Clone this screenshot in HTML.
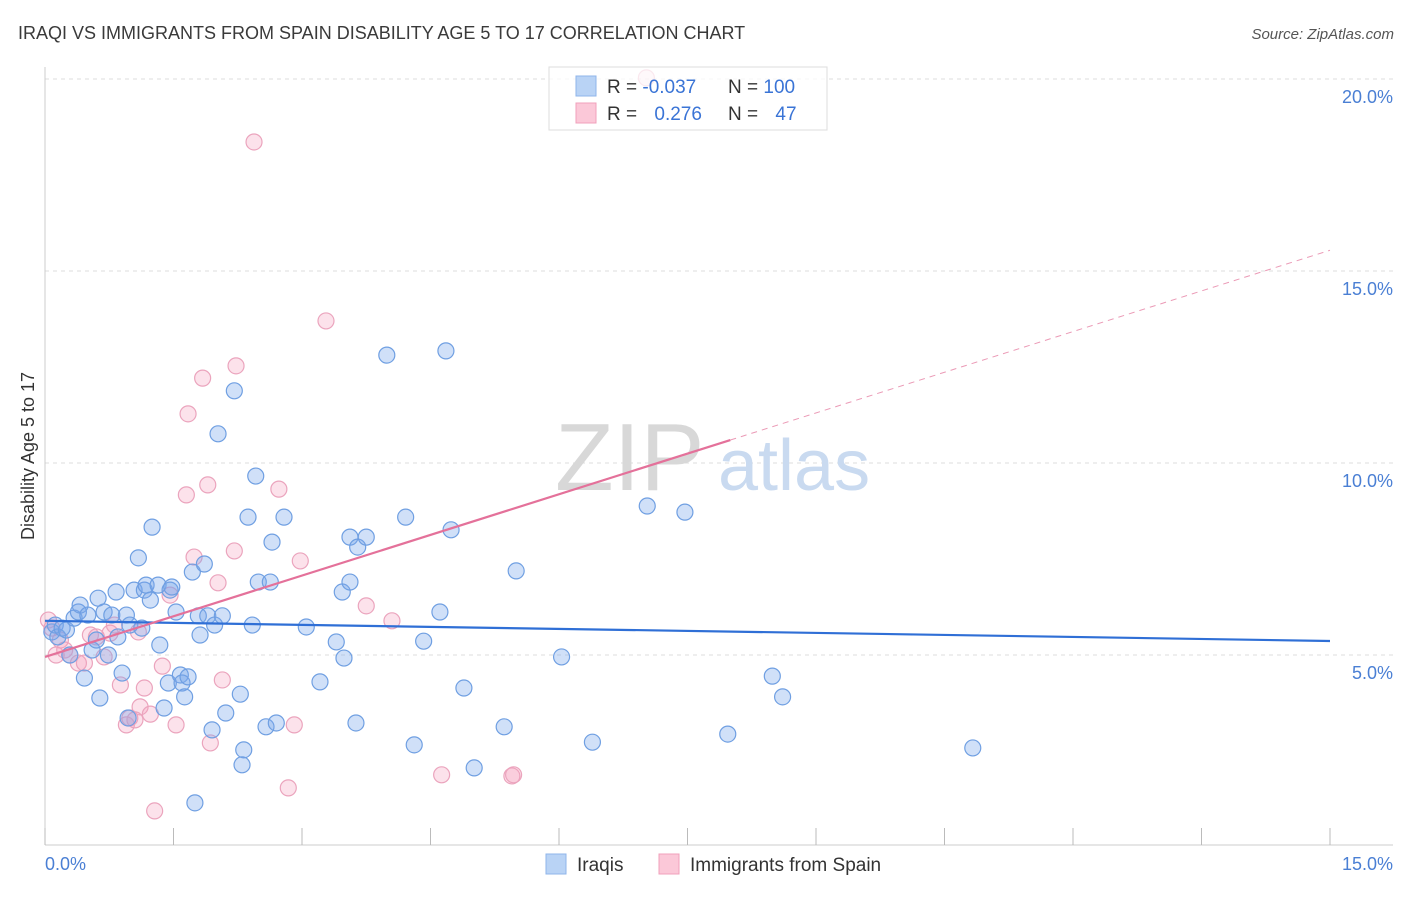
<!DOCTYPE html>
<html><head><meta charset="utf-8"><style>
body{margin:0;background:#fff;font-family:"Liberation Sans",sans-serif;}
svg text{font-family:"Liberation Sans",sans-serif;}
</style></head><body>
<svg id="chart" width="1406" height="892" xmlns="http://www.w3.org/2000/svg">
<text x="18" y="39" font-size="18" fill="#3a3a3a">IRAQI VS IMMIGRANTS FROM SPAIN DISABILITY AGE 5 TO 17 CORRELATION CHART</text>
<text x="1394" y="39" font-size="15" fill="#555" text-anchor="end" font-style="italic">Source: ZipAtlas.com</text>
<g id="grid"></g>
<g><text x="555" y="490" font-size="96" fill="#d8d8d8" font-family="Liberation Serif">ZIP</text><text x="718" y="490" font-size="72" fill="#c9daf0">atlas</text></g>
<g id="pts"></g>
<g id="trend"></g>
<text x="34" y="456" font-size="18" fill="#333" text-anchor="middle" transform="rotate(-90 34 456)">Disability Age 5 to 17</text>
<text x="45" y="870" font-size="18" fill="#4a7fd4">0.0%</text>
<text x="1393" y="870" font-size="18" fill="#4a7fd4" text-anchor="end">15.0%</text>
<g>
<rect x="549" y="67" width="278" height="63" fill="rgba(255,255,255,0.75)" stroke="#ddd"/>
<rect x="576" y="76" width="20" height="20" fill="#b9d3f5" stroke="#8fb5ea"/>
<rect x="576" y="103" width="20" height="20" fill="#fbc8d8" stroke="#f0a0bb"/>
<text x="607" y="93" font-size="19" fill="#333">R = <tspan fill="#3a74d6">-0.037</tspan></text>
<text x="728" y="93" font-size="19" fill="#333">N = <tspan fill="#3a74d6">100</tspan></text>
<text x="607" y="120" font-size="19" fill="#333">R = <tspan fill="#3a74d6" dx="12">0.276</tspan></text>
<text x="728" y="120" font-size="19" fill="#333">N = <tspan fill="#3a74d6" dx="12">47</tspan></text>
</g>
<g>
<rect x="546" y="854" width="20" height="20" fill="#b9d3f5" stroke="#8fb5ea"/>
<text x="577" y="871" font-size="19" fill="#333">Iraqis</text>
<rect x="659" y="854" width="20" height="20" fill="#fbc8d8" stroke="#f0a0bb"/>
<text x="690" y="871" font-size="19" fill="#333">Immigrants from Spain</text>
</g>
<g id="over"></g>
</svg>
<script>
const yTicks=[5,10,15,20];
const yTickLabels=["5.0%","10.0%","15.0%","20.0%"];
const xTicks=[0,1.5,3,4.5,6,7.5,9,10.5,12,13.5,15];
const iraqiX=[0.08,0.12,0.15,0.20,0.25,0.29,0.34,0.39,0.41,0.46,0.50,0.55,0.60,0.62,0.64,0.69,0.74,0.78,0.83,0.85,0.90,0.95,0.97,0.99,1.04,1.09,1.13,1.16,1.18,1.23,1.25,1.32,1.34,1.39,1.44,1.46,1.48,1.53,1.58,1.60,1.63,1.67,1.72,1.75,1.79,1.81,1.86,1.90,1.95,1.98,2.02,2.07,2.11,2.21,2.28,2.32,2.30,2.37,2.42,2.46,2.49,2.58,2.63,2.65,2.70,2.79,3.05,3.21,3.40,3.47,3.49,3.56,3.56,3.63,3.65,3.75,3.99,4.21,4.31,4.42,4.61,4.68,4.74,4.89,5.01,5.36,5.50,6.03,6.39,7.03,7.47,7.97,8.49,8.61,10.83];
const iraqiY=[5.60,5.78,5.47,5.70,5.65,5.00,5.96,6.12,6.30,4.40,6.04,5.13,5.39,6.48,3.88,6.12,5.00,6.04,6.64,5.47,4.53,6.04,3.36,5.78,6.69,7.53,5.70,6.69,6.82,6.43,8.33,6.82,5.26,3.62,4.27,6.69,6.77,6.12,4.48,4.27,3.91,4.43,7.16,1.15,6.02,5.52,7.37,6.02,3.05,5.78,10.76,6.02,3.49,11.88,3.98,2.53,2.14,8.59,5.78,9.66,6.90,3.13,6.90,7.94,3.23,8.59,5.73,4.30,5.34,6.64,4.92,6.90,8.07,3.23,7.81,8.07,12.81,8.59,2.66,5.36,6.12,12.92,8.26,4.14,2.06,3.13,7.19,4.95,2.73,8.88,8.72,2.94,4.45,3.91,2.58];
const spainX=[0.04,0.08,0.13,0.18,0.23,0.29,0.39,0.46,0.53,0.60,0.69,0.76,0.81,0.88,0.95,0.99,1.09,1.11,1.16,1.23,1.37,1.46,1.53,1.67,1.65,1.74,1.84,1.90,1.93,2.02,2.07,2.21,2.23,2.44,2.73,2.84,2.91,2.98,3.28,3.75,4.05,4.63,5.45,5.47,7.02,1.28,1.05];
const spainY=[5.91,5.70,5.00,5.39,5.13,5.00,4.79,4.79,5.52,5.47,4.95,5.57,5.78,4.22,3.18,3.36,5.60,3.65,4.14,3.46,4.71,6.56,3.18,11.28,9.17,7.55,12.21,9.43,2.71,6.88,4.35,7.71,12.53,18.36,9.32,1.54,3.18,7.45,13.70,6.28,5.89,1.88,1.85,1.88,20.03,0.94,3.31];
const iraqiTrend=[5.89,-0.035];
const spainTrend=[4.95,0.706];
const NS="http://www.w3.org/2000/svg";
const X0=45,X1=1330,YB=847;
function sx(v){return X0+(X1-X0)*v/15;}
function sy(v){return YB-v*38.4;}
function mk(tag,attrs,parent){const e=document.createElementNS(NS,tag);for(const k in attrs)e.setAttribute(k,attrs[k]);parent.appendChild(e);return e;}
const grid=document.getElementById('grid');
yTicks.forEach((t,i)=>{
 const l=mk('line',{x1:45,x2:1393,y1:sy(t),y2:sy(t),stroke:'#ddd','stroke-dasharray':'4,4'},grid);
 
 
 const tx=mk('text',{x:1393,y:sy(t)+24,'font-size':18,fill:'#4a7fd4','text-anchor':'end'},grid);
 tx.textContent=yTickLabels[i];
 
 
});
const ax=mk('line',{x1:45,x2:1393,y1:845,y2:845,stroke:'#ccc'},grid);


const ay=mk('line',{x1:45,x2:45,y1:67,y2:845,stroke:'#ccc'},grid);


xTicks.forEach(t=>{
 const l=mk('line',{x1:sx(t),x2:sx(t),y1:828,y2:845,stroke:'#bbb'},grid);
 
 
});
const pts=document.getElementById('pts');
spainX.forEach((x,i)=>{
 const c=mk('circle',{cx:sx(x),cy:sy(spainY[i]),r:8,fill:'rgba(244,160,190,0.3)',stroke:'#eba4bd','stroke-width':1.2},pts);
 
 
});
iraqiX.forEach((x,i)=>{
 const c=mk('circle',{cx:sx(x),cy:sy(iraqiY[i]),r:8,fill:'rgba(120,165,235,0.35)',stroke:'#6f9fe2','stroke-width':1.2},pts);
 
 
});
const tr=document.getElementById('trend');
const bl=mk('line',{x1:sx(0),y1:sy(iraqiTrend[0]),x2:sx(15),y2:sy(iraqiTrend[0]+iraqiTrend[1]*15),stroke:'#2f6fd6','stroke-width':2.2},tr);


const pl=mk('line',{x1:sx(0),y1:sy(spainTrend[0]),x2:sx(8),y2:sy(spainTrend[0]+spainTrend[1]*8),stroke:'#e4719a','stroke-width':2.2},tr);


const pd=mk('line',{x1:sx(8),y1:sy(spainTrend[0]+spainTrend[1]*8),x2:sx(15),y2:sy(spainTrend[0]+spainTrend[1]*15),stroke:'#eb9ab6','stroke-width':1,'stroke-dasharray':'6,5'},tr);


</script>
</body></html>
